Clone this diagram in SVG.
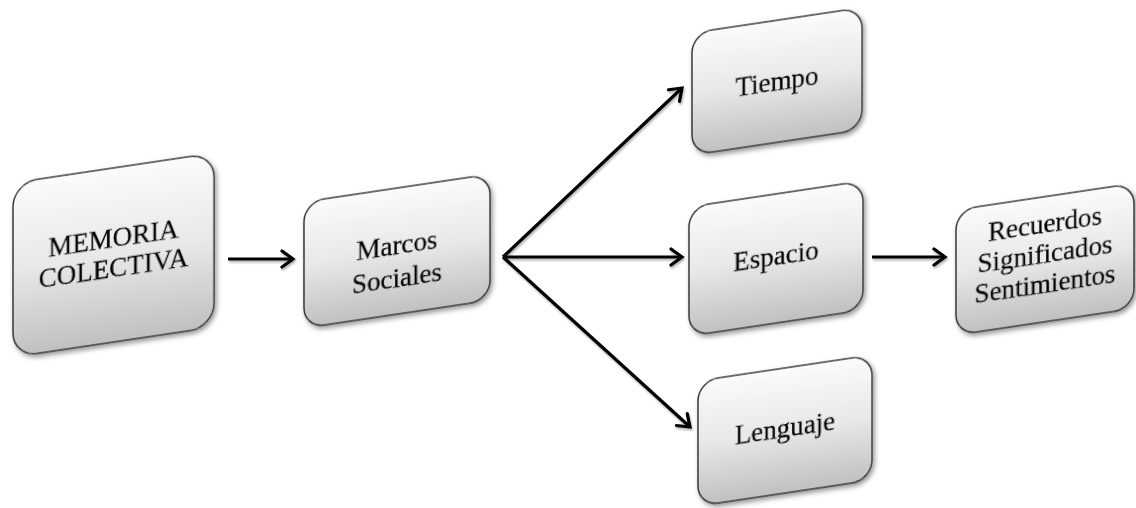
<svg xmlns="http://www.w3.org/2000/svg" width="1136" height="508" viewBox="0 0 1136 508">
<style>
.box{fill:url(#g);stroke:#3a3a3a;stroke-width:1.5;}
.t{font-family:"Liberation Serif","Times New Roman",serif;font-size:27px;fill:#000;stroke:#000;stroke-width:0.35;text-anchor:middle;}
.c{stroke:#000;stroke-width:3.2;fill:none;marker-end:url(#ah);}
</style>
<defs>
<linearGradient id="g" x1="0" y1="0" x2="0" y2="1">
<stop offset="0" stop-color="#fbfbfb"/>
<stop offset="0.5" stop-color="#e8e8e8"/>
<stop offset="1" stop-color="#c0c0c0"/>
</linearGradient>
<filter id="sh" x="-10%" y="-10%" width="125%" height="130%">
<feDropShadow dx="2" dy="3" stdDeviation="2.4" flood-color="#000" flood-opacity="0.4"/>
</filter>
<filter id="sa" x="-10%" y="-10%" width="120%" height="120%">
<feDropShadow dx="1" dy="2" stdDeviation="1.2" flood-color="#000" flood-opacity="0.3"/>
</filter>
<marker id="ah" markerUnits="userSpaceOnUse" viewBox="0 0 16 20" refX="13" refY="10" markerWidth="16" markerHeight="20" orient="auto">
<path d="M2,2 L13,10 L2,18" fill="none" stroke="#000" stroke-width="3.2" stroke-linecap="round"/>
</marker>
</defs>
<g id="connectors" filter="url(#sa)">
<line class="c" x1="228" y1="259" x2="293" y2="259"/>
<line class="c" x1="503" y1="257" x2="682" y2="88"/>
<line class="c" x1="503" y1="257" x2="682" y2="257"/>
<line class="c" x1="503" y1="257" x2="690" y2="427"/>
<line class="c" x1="872" y1="257" x2="945" y2="257"/>
</g>
<g id="memoria" transform="translate(13,183) skewY(-8.5)" filter="url(#sh)">
<rect class="box" x="0" y="0" width="201" height="174" rx="24"/>
<text class="t" x="100.5" y="79">MEMORIA</text>
<text class="t" x="100.5" y="109">COLECTIVA</text>
</g>
<g id="marcos" transform="translate(304,202) skewY(-8.5)" filter="url(#sh)">
<rect class="box" x="0" y="0" width="186" height="126" rx="20"/>
<text class="t" x="93" y="66">Marcos</text>
<text class="t" x="93" y="99">Sociales</text>
</g>
<g id="tiempo" transform="translate(692,33) skewY(-8.5)" filter="url(#sh)">
<rect class="box" x="0" y="0" width="170" height="122" rx="20"/>
<text class="t" x="85" y="70">Tiempo</text>
</g>
<g id="espacio" transform="translate(689,207) skewY(-8.5)" filter="url(#sh)">
<rect class="box" x="0" y="0" width="174" height="129" rx="20"/>
<text class="t" x="87" y="71">Espacio</text>
</g>
<g id="recuerdos" transform="translate(956,210) skewY(-8.5)" filter="url(#sh)">
<rect class="box" x="0" y="0" width="178" height="125" rx="20"/>
<text class="t" x="89" y="36">Recuerdos</text>
<text class="t" x="89" y="66">Significados</text>
<text class="t" x="89" y="96">Sentimientos</text>
</g>
<g id="lenguaje" transform="translate(698,381) skewY(-8.5)" filter="url(#sh)">
<rect class="box" x="0" y="0" width="174" height="125" rx="20"/>
<text class="t" x="87" y="69">Lenguaje</text>
</g>
</svg>
